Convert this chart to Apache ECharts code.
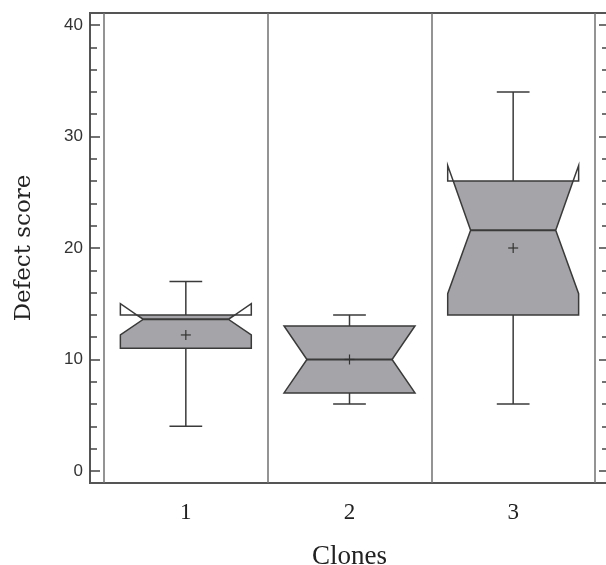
<!DOCTYPE html>
<html>
<head>
<meta charset="utf-8">
<script src="https://cdn.jsdelivr.net/npm/echarts@6/dist/echarts.min.js"></script>
<style>
  html, body { margin: 0; padding: 0; background: #fff; }
  #chart { width: 606px; height: 565px; }
</style>
</head>
<body>
<div id="chart"></div>
<script>
// values
const clones = ['1', '2', '3']
const whiskerLow = [4, 6, 6]
const q1 = [11, 7, 14]
const median = [13.6, 10, 21.6]
const q3 = [14, 13, 26]
const whiskerHigh = [17, 14, 34]
const notchLow = [12.2, 7, 15.9]
const notchHigh = [15, 13, 27.4]
const mean = [12.2, 10, 20]

const yTicks = [0, 10, 20, 30, 40]
const yMinorTicks = [2, 4, 6, 8, 12, 14, 16, 18, 22, 24, 26, 28, 32, 34, 36, 38]
const yMin = -1.08
const yMax = 41.08

const stroke = '#3a3a3a'
const boxFill = '#a5a5a9'

const chart = echarts.init(document.getElementById('chart'))

function tickAxis(position, values, len, extra) {
  return Object.assign({
    type: 'value',
    gridIndex: 0,
    position: position,
    min: yMin,
    max: yMax,
    axisLine: { show: false },
    axisTick: { show: true, inside: true, length: len, customValues: values, lineStyle: { color: '#444', width: 1.5 } },
    axisLabel: { show: false },
    splitLine: { show: false },
  }, extra || {})
}

function renderBox(params, api) {
  const idx = api.value(0)
  const lo = api.value(1)
  const b1 = api.value(2)
  const med = api.value(3)
  const b3 = api.value(4)
  const hi = api.value(5)
  const nLo = api.value(6)
  const nHi = api.value(7)
  const mu = api.value(8)

  const band = api.size([1, 0])[0]
  const cx = api.coord([idx, 0])[0]
  const w = band * 0.4
  const wn = band * 0.26
  const wc = band * 0.1
  const y = (v) => api.coord([idx, v])[1]

  const halfAt = (v) => {
    if (v <= nLo || v >= nHi) return w
    if (v < med) return w + (wn - w) * (v - nLo) / (med - nLo)
    return wn + (w - wn) * (v - med) / (nHi - med)
  }

  const levels = [b1, nLo, med, nHi, b3]
    .filter((v) => v >= b1 && v <= b3)
    .sort((a, b) => a - b)
    .filter((v, i, arr) => i === 0 || v !== arr[i - 1])

  const right = levels.map((v) => [cx + halfAt(v), y(v)])
  const left = levels.slice().reverse().map((v) => [cx - halfAt(v), y(v)])

  const line = { stroke: stroke, lineWidth: 1.5 }
  const children = []

  // whiskers
  children.push({ type: 'line', shape: { x1: cx, y1: y(b3), x2: cx, y2: y(hi) }, style: line })
  children.push({ type: 'line', shape: { x1: cx - wc, y1: y(hi), x2: cx + wc, y2: y(hi) }, style: line })
  children.push({ type: 'line', shape: { x1: cx, y1: y(b1), x2: cx, y2: y(lo) }, style: line })
  children.push({ type: 'line', shape: { x1: cx - wc, y1: y(lo), x2: cx + wc, y2: y(lo) }, style: line })

  // notched box
  children.push({
    type: 'polygon',
    shape: { points: right.concat(left) },
    style: { fill: boxFill, stroke: stroke, lineWidth: 1.5 },
  })

  // notch flaring past the box
  if (nHi > b3) {
    const h = halfAt(b3)
    children.push({ type: 'polygon', shape: { points: [[cx + h, y(b3)], [cx + w, y(b3)], [cx + w, y(nHi)]] }, style: { fill: '#fff', stroke: stroke, lineWidth: 1.5 } })
    children.push({ type: 'polygon', shape: { points: [[cx - h, y(b3)], [cx - w, y(b3)], [cx - w, y(nHi)]] }, style: { fill: '#fff', stroke: stroke, lineWidth: 1.5 } })
  }
  if (nLo < b1) {
    const h = halfAt(b1)
    children.push({ type: 'polygon', shape: { points: [[cx + h, y(b1)], [cx + w, y(b1)], [cx + w, y(nLo)]] }, style: { fill: '#fff', stroke: stroke, lineWidth: 1.5 } })
    children.push({ type: 'polygon', shape: { points: [[cx - h, y(b1)], [cx - w, y(b1)], [cx - w, y(nLo)]] }, style: { fill: '#fff', stroke: stroke, lineWidth: 1.5 } })
  }

  // median
  children.push({ type: 'line', shape: { x1: cx - halfAt(med), y1: y(med), x2: cx + halfAt(med), y2: y(med) }, style: { stroke: stroke, lineWidth: 2 } })

  // mean marker
  const my = y(mu)
  children.push({ type: 'line', shape: { x1: cx - 5, y1: my, x2: cx + 5, y2: my }, style: { stroke: '#333', lineWidth: 1.2 } })
  children.push({ type: 'line', shape: { x1: cx, y1: my - 5, x2: cx, y2: my + 5 }, style: { stroke: '#333', lineWidth: 1.2 } })

  return { type: 'group', children: children }
}

chart.setOption({
  backgroundColor: '#fff',
  animation: false,
  grid: [
    { left: 90, right: -3, top: 13, bottom: 82, outerBoundsMode: 'none', show: true, borderColor: '#555', borderWidth: 2, backgroundColor: 'transparent' },
    { left: 104, right: 11, top: 13, bottom: 82, outerBoundsMode: 'none' },
  ],
  xAxis: [
    { type: 'value', gridIndex: 0, show: false },
    {
      type: 'category',
      gridIndex: 1,
      data: clones,
      axisLine: { show: false },
      axisTick: { show: false },
      axisLabel: {
        margin: 18,
        fontFamily: 'Liberation Serif',
        fontSize: 23,
        color: '#222',
      },
      splitLine: { show: true, lineStyle: { color: '#707070', width: 1.5 } },
      name: 'Clones',
      nameLocation: 'middle',
      nameGap: 60,
      nameTextStyle: { fontFamily: 'Liberation Serif', fontSize: 27, color: '#222' },
    },
  ],
  yAxis: [
    tickAxis('left', yTicks, 10, {
      axisLabel: {
        show: true,
        customValues: yTicks,
        margin: 7,
        fontFamily: 'Liberation Sans',
        fontSize: 17,
        color: '#333',
      },
      name: 'Defect score',
      nameLocation: 'middle',
      nameRotate: 90,
      nameGap: 54,
      nameTextStyle: { fontFamily: 'DejaVu Serif', fontSize: 23, color: '#222', padding: [0, 0, 0, 0] },
    }),
    tickAxis('left', yMinorTicks, 7),
    tickAxis('right', yTicks, 10),
    tickAxis('right', yMinorTicks, 7),
    { type: 'value', gridIndex: 1, min: yMin, max: yMax, show: false },
  ],
  series: [
    {
      type: 'custom',
      xAxisIndex: 1,
      yAxisIndex: 4,
      renderItem: renderBox,
      data: clones.map((c, i) => [i, whiskerLow[i], q1[i], median[i], q3[i], whiskerHigh[i], notchLow[i], notchHigh[i], mean[i]]),
    },
  ],
})
</script>
</body>
</html>
